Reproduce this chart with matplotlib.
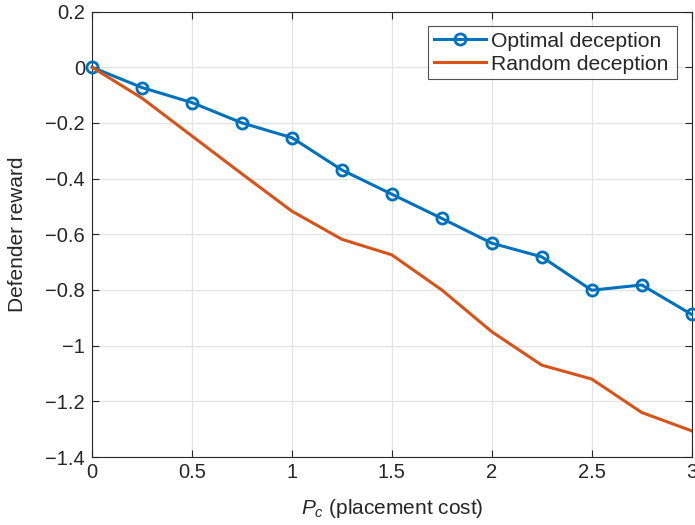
import matplotlib
matplotlib.use("Agg")
import matplotlib.pyplot as plt

plt.rcParams['font.family'] = ['Liberation Sans', 'DejaVu Sans']
plt.rcParams['mathtext.fontset'] = 'custom'
plt.rcParams['mathtext.rm'] = 'Liberation Sans'
plt.rcParams['mathtext.it'] = 'Liberation Sans:italic'

x = [0, 0.25, 0.5, 0.75, 1, 1.25, 1.5, 1.75, 2, 2.25, 2.5, 2.75, 3]
optimal = [0, -0.073, -0.127, -0.200, -0.253, -0.369, -0.456, -0.543, -0.632, -0.681, -0.801, -0.782, -0.888]
random_ = [0, -0.111, -0.247, -0.383, -0.517, -0.618, -0.674, -0.800, -0.950, -1.070, -1.120, -1.240, -1.306]
xticks = [0, 0.5, 1, 1.5, 2, 2.5, 3]
xticklabels = ['0', '0.5', '1', '1.5', '2', '2.5', '3']
yticks = [-1.4, -1.2, -1, -0.8, -0.6, -0.4, -0.2, 0, 0.2]
yticklabels = ['\u22121.4', '\u22121.2', '\u22121', '\u22120.8', '\u22120.6', '\u22120.4', '\u22120.2', '0', '0.2']

fig = plt.figure(figsize=(6.95, 5.25), dpi=100)
ax = fig.add_axes([0.1324, 0.1295, 0.8628, 0.8485])

ax.plot(x, optimal, color='#0072BD', lw=2.2, marker='o', ms=8, mfc='none', mew=2,
        label='Optimal deception', zorder=3, clip_on=False)
ax.plot(x, random_, color='#D95319', lw=2.2, label='Random deception', zorder=3)

ax.set_xlim(0, 3)
ax.set_ylim(-1.4, 0.2)
ax.set_xticks(xticks)
ax.set_xticklabels(xticklabels)
ax.set_yticks(yticks)
ax.set_yticklabels(yticklabels)
ax.grid(True, color='#e3e3e3', lw=0.9)
ax.set_axisbelow(True)
ax.tick_params(direction='in', length=5, width=0.8, colors='#262626', labelsize=14.5,
               top=True, right=True)
ax.tick_params(axis='x', pad=4)
ax.tick_params(axis='y', pad=5)
for s in ax.spines.values():
    s.set_color('#262626')
    s.set_linewidth(0.8)

ax.set_xlabel(r'$P_c$ (placement cost)', fontsize=15, color='#262626', labelpad=11)
ax.set_ylabel('Defender reward', fontsize=15, color='#262626', labelpad=13)

leg = ax.legend(loc='upper left', bbox_to_anchor=(0.56, 0.9677, 0.415, 0.0),
                mode='expand', fontsize=15.2, frameon=True, fancybox=False,
                edgecolor='#262626', borderpad=0.27, handlelength=2.5, handletextpad=0.22,
                labelspacing=0.19, borderaxespad=0.0)
leg.get_frame().set_linewidth(0.8)
for t in leg.get_texts():
    t.set_color('#262626')

fig.savefig('out.png', dpi=100)
